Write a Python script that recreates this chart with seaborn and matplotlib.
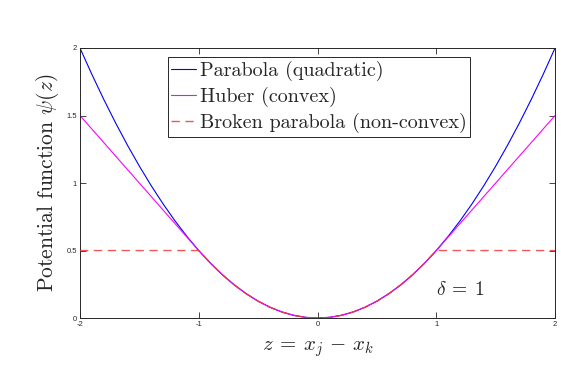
import numpy as np
import pandas as pd
import matplotlib
matplotlib.use("Agg")
import matplotlib.pyplot as plt
import seaborn as sns

z = [-2.0, -1.9, -1.8, -1.7, -1.6, -1.5, -1.4, -1.3, -1.2, -1.1, -1.0,
     -0.9, -0.8, -0.7, -0.6, -0.5, -0.4, -0.3, -0.2, -0.1, 0.0,
     0.1, 0.2, 0.3, 0.4, 0.5, 0.6, 0.7, 0.8, 0.9, 1.0,
     1.1, 1.2, 1.3, 1.4, 1.5, 1.6, 1.7, 1.8, 1.9, 2.0]
parabola = [2.0, 1.805, 1.62, 1.445, 1.28, 1.125, 0.98, 0.845, 0.72, 0.605, 0.5,
            0.405, 0.32, 0.245, 0.18, 0.125, 0.08, 0.045, 0.02, 0.005, 0.0,
            0.005, 0.02, 0.045, 0.08, 0.125, 0.18, 0.245, 0.32, 0.405, 0.5,
            0.605, 0.72, 0.845, 0.98, 1.125, 1.28, 1.445, 1.62, 1.805, 2.0]
huber = [1.5, 1.4, 1.3, 1.2, 1.1, 1.0, 0.9, 0.8, 0.7, 0.6, 0.5,
         0.405, 0.32, 0.245, 0.18, 0.125, 0.08, 0.045, 0.02, 0.005, 0.0,
         0.005, 0.02, 0.045, 0.08, 0.125, 0.18, 0.245, 0.32, 0.405, 0.5,
         0.6, 0.7, 0.8, 0.9, 1.0, 1.1, 1.2, 1.3, 1.4, 1.5]
broken = [0.5, 0.5, 0.5, 0.5, 0.5, 0.5, 0.5, 0.5, 0.5, 0.5, 0.5,
          0.405, 0.32, 0.245, 0.18, 0.125, 0.08, 0.045, 0.02, 0.005, 0.0,
          0.005, 0.02, 0.045, 0.08, 0.125, 0.18, 0.245, 0.32, 0.405, 0.5,
          0.5, 0.5, 0.5, 0.5, 0.5, 0.5, 0.5, 0.5, 0.5, 0.5]
labels = ["Parabola (quadratic)", "Huber (convex)", "Broken parabola (non-convex)"]
xticks = [-2, -1, 0, 1, 2]
yticks = [0, 0.5, 1, 1.5, 2]
yticklabels = ["0", "0.5", "1", "1.5", "2"]

sns.set_theme(style="ticks")
plt.rcParams["mathtext.fontset"] = "cm"
plt.rcParams["font.family"] = ["Liberation Sans", "DejaVu Sans"]

fig = plt.figure(figsize=(5.88, 3.72), dpi=100)
ax = fig.add_axes([0.136, 0.145, 0.808, 0.726])

sns.lineplot(x=z, y=broken, ax=ax, color="#ee3b3b", alpha=0.85, lw=1.0,
             linestyle=(0, (6, 4)), label=labels[2], zorder=3)
sns.lineplot(x=z, y=parabola, ax=ax, color="#0000ff", lw=0.8, label=labels[0], zorder=2)
sns.lineplot(x=z, y=huber, ax=ax, color="#ff00ff", lw=0.8, label=labels[1], zorder=2)

ax.set_xlim(-2, 2)
ax.set_ylim(0, 2)
ax.set_xticks(xticks)
ax.set_xticklabels([str(t) for t in xticks])
ax.set_yticks(yticks)
ax.set_yticklabels(yticklabels)
ax.tick_params(direction="in", length=4, width=0.6, labelsize=5.5, pad=2,
               top=True, right=True, colors="#262626")
for s in ax.spines.values():
    s.set_linewidth(0.7)
    s.set_color("#262626")

ax.set_xlabel(r"$z\:=\:x_j\,-\,x_k$", fontsize=15, labelpad=8)
ax.set_ylabel(r"Potential function $\psi(z)$", fontsize=15.5, family="cmr10", labelpad=4)
ax.text(1.0, 0.17, r"$\delta\:=\:1$", fontsize=14, transform=ax.transData)

handles, labs = ax.get_legend_handles_labels()
order = [labs.index(l) for l in labels]
leg = ax.legend([handles[i] for i in order], [labs[i] for i in order],
                loc="upper left", bbox_to_anchor=(0.185, 0.967),
                prop={"family": "cmr10", "size": 14.5}, frameon=True, fancybox=False,
                edgecolor="#262626", framealpha=1, handlelength=1.2, handletextpad=0.2,
                borderpad=0.18, labelspacing=0.3, borderaxespad=0)
leg.get_frame().set_linewidth(0.7)

fig.savefig("out.png", dpi=100)
